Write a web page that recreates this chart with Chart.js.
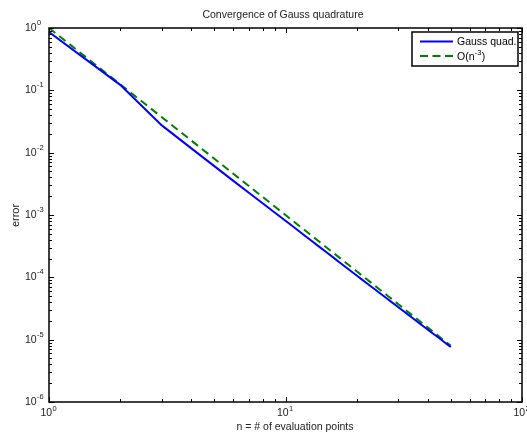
<!DOCTYPE html>
<html>
<head>
<meta charset="utf-8">
<script src="https://cdn.jsdelivr.net/npm/chart.js@4"></script>
<style>
  body { margin: 0; background: #fff; }
  #wrap { width: 527px; height: 432px; }
</style>
</head>
<body>
<div id="wrap"><canvas id="chart_conv"></canvas></div>
<script>
// number of evaluation points
const nPoints = [1, 2, 3, 4, 5, 6, 7, 8, 9, 10,
  11, 12, 13, 14, 15, 16, 17, 18, 19, 20,
  21, 22, 23, 24, 25, 26, 27, 28, 29, 30,
  31, 32, 33, 34, 35, 36, 37, 38, 39, 40,
  41, 42, 43, 44, 45, 46, 47, 48, 49, 50];

// Gauss quadrature error
const gaussErr = [0.86, 0.1225, 0.02741, 0.01172, 0.00608, 0.003565, 0.002274, 0.001543, 0.001097, 8.1e-4,
  6.123e-4, 4.745e-4, 3.755e-4, 3.025e-4, 2.474e-4, 2.050e-4, 1.718e-4, 1.454e-4, 1.242e-4, 1.070e-4,
  9.288e-5, 8.114e-5, 7.134e-5, 6.308e-5, 5.606e-5, 5.007e-5, 4.492e-5, 4.045e-5, 3.657e-5, 3.319e-5,
  3.018e-5, 2.753e-5, 2.519e-5, 2.310e-5, 2.124e-5, 1.959e-5, 1.810e-5, 1.676e-5, 1.556e-5, 1.447e-5,
  1.348e-5, 1.258e-5, 1.176e-5, 1.101e-5, 1.032e-5, 9.695e-6, 9.112e-6, 8.572e-6, 8.075e-6, 7.616e-6];

// reference O(n^-3)
const refErr = [1, 0.125, 0.037037, 0.015625, 0.008, 0.0046296, 0.0029155, 0.0019531, 0.0013717, 0.001,
  7.513e-4, 5.787e-4, 4.552e-4, 3.644e-4, 2.963e-4, 2.441e-4, 2.035e-4, 1.715e-4, 1.458e-4, 1.25e-4,
  1.080e-4, 9.391e-5, 8.219e-5, 7.234e-5, 6.4e-5, 5.690e-5, 5.081e-5, 4.555e-5, 4.100e-5, 3.704e-5,
  3.357e-5, 3.052e-5, 2.783e-5, 2.544e-5, 2.332e-5, 2.143e-5, 1.974e-5, 1.822e-5, 1.686e-5, 1.5625e-5,
  1.451e-5, 1.350e-5, 1.258e-5, 1.174e-5, 1.097e-5, 1.027e-5, 9.632e-6, 9.042e-6, 8.500e-6, 8.0e-6];

// tick exponents (labels are 10^e)
const xTickExps = [0, 1, 2];
const yTickExps = [0, -1, -2, -3, -4, -5, -6];

const seriesNames = ['Gauss quad.', 'O(n', ')'];

const FONT = '"Liberation Sans", Arial, Helvetica, sans-serif';

function drawPow(ctx, xLeft, yMid, exp) {
    ctx.font = `10.5px ${FONT}`;
    ctx.textBaseline = 'middle';
    ctx.textAlign = 'left';
    ctx.fillText('10', xLeft, yMid);
    const w = ctx.measureText('10').width;
    ctx.font = `7.5px ${FONT}`;
    ctx.fillText(String(exp), xLeft + w + 0.3, yMid - 5);
}

const axesBox = {
    id: 'axesBox',
    afterDraw(chart) {
        const { ctx, chartArea: a, scales: { x, y } } = chart;
        ctx.save();
        ctx.fillStyle = '#000';
        ctx.strokeStyle = '#000';

        // ticks inside the box, all four sides
        ctx.lineWidth = 1;
        ctx.beginPath();
        for (let e = 0; e <= 2; e++) {
            for (let m = 1; m <= 9; m++) {
                const v = m * Math.pow(10, e);
                if (v < x.min || v > x.max) continue;
                const px = Math.round(x.getPixelForValue(v)) + 0.5;
                const len = m === 1 ? 5 : 3;
                ctx.moveTo(px, a.bottom); ctx.lineTo(px, a.bottom - len);
                ctx.moveTo(px, a.top); ctx.lineTo(px, a.top + len);
            }
        }
        for (let e = -6; e <= 0; e++) {
            for (let m = 1; m <= 9; m++) {
                const v = m * Math.pow(10, e);
                if (v < y.min * 0.999 || v > y.max * 1.001) continue;
                const py = Math.round(y.getPixelForValue(v)) + 0.5;
                const len = m === 1 ? 5 : 3;
                ctx.moveTo(a.left, py); ctx.lineTo(a.left + len, py);
                ctx.moveTo(a.right, py); ctx.lineTo(a.right - len, py);
            }
        }
        ctx.stroke();

        // box
        ctx.lineWidth = 1.5;
        ctx.strokeRect(a.left, a.top, a.right - a.left, a.bottom - a.top);

        // tick labels
        ctx.fillStyle = '#222';
        yTickExps.forEach(e => {
            drawPow(ctx, 25, y.getPixelForValue(Math.pow(10, e)), e);
        });
        xTickExps.forEach(e => {
            const px = x.getPixelForValue(Math.pow(10, e));
            drawPow(ctx, px - 8.5, 413.5, e);
        });

        // title and axis labels
        ctx.font = `10.5px ${FONT}`;
        ctx.textAlign = 'center';
        ctx.textBaseline = 'middle';
        ctx.fillText('Convergence of Gauss quadrature', 283, 15);
        ctx.fillText('n = # of evaluation points', 295, 427);
        ctx.save();
        ctx.translate(16, 215.5);
        ctx.rotate(-Math.PI / 2);
        ctx.font = `11px ${FONT}`;
        ctx.fillText('error', 0, 0);
        ctx.restore();

        // legend
        ctx.fillStyle = '#fff';
        ctx.fillRect(412, 32, 106, 34);
        ctx.lineWidth = 1.5;
        ctx.strokeStyle = '#000';
        ctx.strokeRect(412, 32, 106, 34);

        ctx.lineWidth = 2;
        ctx.strokeStyle = '#0000ff';
        ctx.beginPath(); ctx.moveTo(420, 41.5); ctx.lineTo(453, 41.5); ctx.stroke();
        ctx.strokeStyle = '#008000';
        ctx.setLineDash([8, 4.5]);
        ctx.beginPath(); ctx.moveTo(420, 56); ctx.lineTo(453, 56); ctx.stroke();
        ctx.setLineDash([]);

        ctx.fillStyle = '#000';
        ctx.font = `10.5px ${FONT}`;
        ctx.textAlign = 'left';
        ctx.fillText(seriesNames[0], 457, 42);
        ctx.fillText(seriesNames[1], 457, 57.5);
        let tx = 457 + ctx.measureText(seriesNames[1]).width;
        ctx.font = `7.5px ${FONT}`;
        ctx.fillText('-3', tx + 0.3, 52.5);
        tx += ctx.measureText('-3').width + 0.6;
        ctx.font = `10.5px ${FONT}`;
        ctx.fillText(seriesNames[2], tx, 57.5);

        ctx.restore();
    }
};

const ctx = document.getElementById('chart_conv').getContext('2d');
new Chart(ctx, {
    type: 'line',
    data: {
        datasets: [{
            label: 'Gauss quad.',
            data: nPoints.map((n, i) => ({ x: n, y: gaussErr[i] })),
            borderColor: '#0000ff',
            borderWidth: 2,
            pointRadius: 0,
            tension: 0
        }, {
            label: 'O(n^-3)',
            data: nPoints.map((n, i) => ({ x: n, y: refErr[i] })),
            borderColor: '#008000',
            borderWidth: 2,
            borderDash: [8, 5],
            pointRadius: 0,
            tension: 0
        }]
    },
    options: {
        responsive: true,
        maintainAspectRatio: false,
        animation: false,
        layout: { padding: { left: 49, top: 28, right: 5, bottom: 30 } },
        plugins: {
            legend: { display: false },
            tooltip: { enabled: false }
        },
        scales: {
            x: { type: 'logarithmic', min: 1, max: 100, display: false },
            y: { type: 'logarithmic', min: 1e-6, max: 1, display: false }
        }
    },
    plugins: [axesBox]
});
</script>
</body>
</html>
